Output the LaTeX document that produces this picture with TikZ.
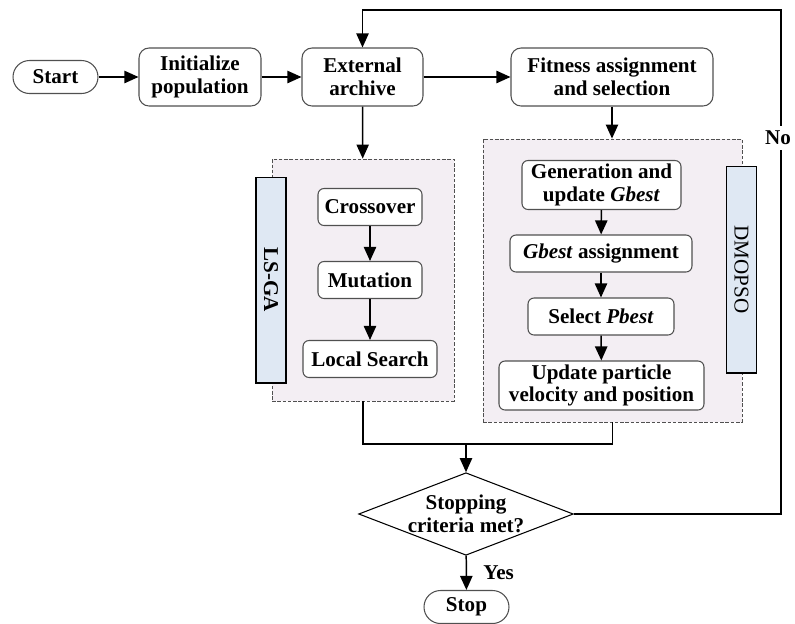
\documentclass[tikz,border=0pt]{standalone}
\usepackage{fontspec}
\setmainfont{Liberation Serif}
\usetikzlibrary{shapes.geometric,arrows.meta}
\definecolor{edgegray}{HTML}{505050}
\definecolor{groupfill}{HTML}{F3EEF3}
\definecolor{barfill}{HTML}{DFE8F3}
\tikzset{
  box/.style={draw=edgegray,line width=0.6pt,fill=white,rounded corners=0.2cm,align=center,inner sep=0pt,minimum height=1.16cm},
  sbox/.style={box,rounded corners=0.12cm,minimum height=0.74cm},
  term/.style={box,rounded corners=0.33cm,minimum width=1.7cm,minimum height=0.66cm},
  grp/.style={draw=edgegray,dash pattern=on 2pt off 1pt,fill=groupfill,line width=0.5pt,inner sep=0pt},
  bar/.style={draw=black,fill=barfill,line width=0.6pt,rotate=-90,minimum height=0.6cm,inner sep=0pt},
  arr/.style={-{Triangle[length=8pt,width=7pt]},line width=0.85pt},
  dec/.style={diamond,draw=black,line width=0.6pt,fill=white,aspect=2.6,inner sep=0pt,minimum width=4.24cm,minimum height=1.64cm,align=center}
}
\begin{document}
\begin{tikzpicture}[x=0.02cm,y=-0.02cm,font=\bfseries\fontsize{12}{13}\selectfont]
\useasboundingbox (0,0) rectangle (795,623);
\node[grp,minimum width=3.64cm,minimum height=4.84cm] (lsga) at (363,280) {};
\node[grp,minimum width=5.18cm,minimum height=5.66cm] (dmo) at (612.5,280.5) {};
\node[bar,minimum width=4.12cm] (lsgabar) at (271,280) {LS-GA};
\node[bar,minimum width=4.14cm,font=\mdseries\fontsize{12}{13}\selectfont] (dmobar) at (741.5,269.5) {DMOPSO};
\node[term] (start) at (55.5,77) {Start};
\node[box,minimum width=2.44cm] (init) at (200,77) {Initialize\\population};
\node[box,minimum width=2.42cm] (ext) at (362.5,77) {External\\archive};
\node[box,minimum width=4.04cm] (fit) at (612,77) {Fitness assignment\\and selection};
\node[sbox,minimum width=2.08cm] (cross) at (370,207) {Crossover};
\node[sbox,minimum width=2.08cm] (mut) at (370,280) {Mutation};
\node[sbox,minimum width=2.68cm] (ls) at (370,359) {Local Search};
\node[sbox,minimum width=3.18cm,minimum height=0.98cm] (gen) at (601.5,185) {Generation and\\update \textit{Gbest}};
\node[sbox,minimum width=3.64cm] (gas) at (601,253.5) {\textit{Gbest} assignment};
\node[sbox,minimum width=2.92cm] (sel) at (601,316.5) {Select \textit{Pbest}};
\node[sbox,minimum width=4.1cm,minimum height=0.98cm] (upd) at (601.5,385.5) {Update particle\\velocity and position};
\node[dec] (stop?) at (466,514) {Stopping\\criteria met?};
\node[term] (stop) at (466.5,607) {Stop};
\coordinate (mrg) at (466,444);
\coordinate (fb) at (781,10);
\draw[arr] (start) -- (init);
\draw[arr] (init) -- (ext);
\draw[arr] (ext) -- (fit);
\draw[arr] (ext) -- (lsga);
\draw[arr] (fit) -- (fit|-dmo.north);
\draw[arr] (cross) -- (mut);
\draw[arr] (mut) -- (ls);
\draw[arr] (gen) -- (gas);
\draw[arr] (gas) -- (sel);
\draw[arr] (sel) -- (upd);
\draw[line width=0.85pt] (lsga.south) |- (mrg) -| (dmo.south);
\draw[arr] (mrg) -- (stop?);
\draw[arr] (stop?) -- node[right=6pt] (yes) {Yes} (stop);
\draw[arr] (stop?.east) -| (fb) -| (ext.north);
\node[fill=white,inner sep=3pt] (no) at (778,138) {No};
\end{tikzpicture}
\end{document}
